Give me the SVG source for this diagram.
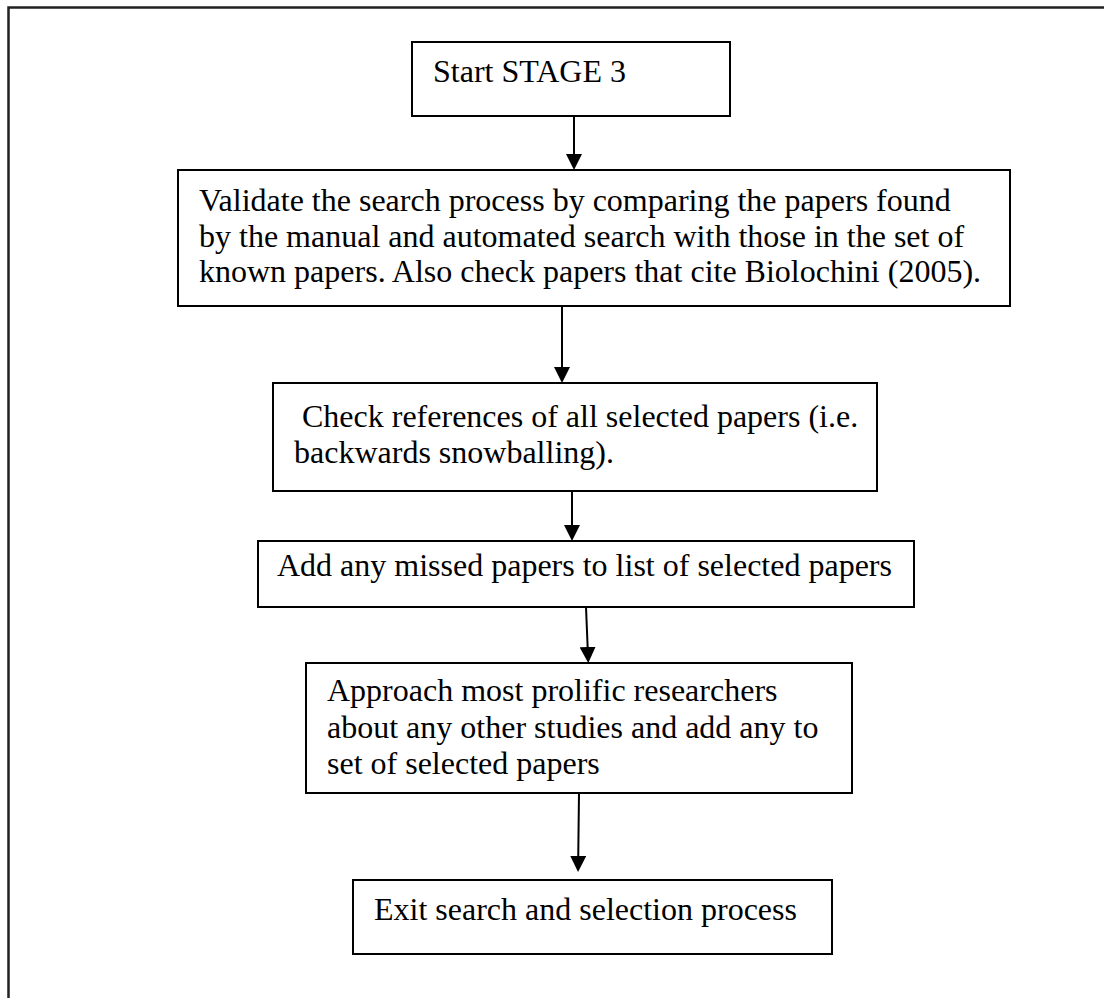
<svg xmlns="http://www.w3.org/2000/svg" width="1104" height="998" viewBox="0 0 1104 998">
<style>
.box{fill:#fff;stroke:#000;stroke-width:2}
.t{font-family:"Liberation Serif","Times New Roman",serif;font-size:32px;fill:#000}
.c{stroke:#000;stroke-width:2;fill:none;marker-end:url(#ah)}
</style>
<defs>
<marker id="ah" markerUnits="userSpaceOnUse" viewBox="0 0 16 16" markerWidth="16" markerHeight="16" refX="4" refY="8" orient="auto">
<path d="M0,0 L16,8 L0,16 z" fill="#000"/>
</marker>
</defs>
<rect width="1104" height="998" fill="#fff"/>
<path d="M1104,7.5 H8.5 V998" fill="none" stroke="#222" stroke-width="2.5"/>
<g id="start">
<rect class="box" x="412" y="42" width="318" height="74"/>
<text class="t" x="433" y="82">Start STAGE 3</text>
</g>
<g id="validate">
<rect class="box" x="178" y="170" width="832" height="136"/>
<text class="t" x="199" y="211">Validate the search process by comparing the papers found</text>
<text class="t" x="199" y="247">by the manual and automated search with those in the set of</text>
<text class="t" x="199" y="282">known papers. Also check papers that cite Biolochini (2005).</text>
</g>
<g id="check">
<rect class="box" x="273" y="383" width="604" height="108"/>
<text class="t" x="294" y="427" xml:space="preserve"> Check references of all selected papers (i.e.</text>
<text class="t" x="294" y="463">backwards snowballing).</text>
</g>
<g id="add">
<rect class="box" x="258" y="541" width="656" height="66"/>
<text class="t" x="277" y="576">Add any missed papers to list of selected papers</text>
</g>
<g id="approach">
<rect class="box" x="306" y="663" width="546" height="130"/>
<text class="t" x="327" y="701">Approach most prolific researchers</text>
<text class="t" x="327" y="738">about any other studies and add any to</text>
<text class="t" x="327" y="774">set of selected papers</text>
</g>
<g id="exit">
<rect class="box" x="353" y="880" width="479" height="74"/>
<text class="t" x="374" y="920">Exit search and selection process</text>
</g>
<g id="connectors">
<path class="c" d="M574,116 V158"/>
<path class="c" d="M562,306 V371"/>
<path class="c" d="M572,491 V529"/>
<path class="c" d="M586,607 L587.8,651"/>
<path class="c" d="M579,793 L578.2,860"/>
</g>
</svg>
